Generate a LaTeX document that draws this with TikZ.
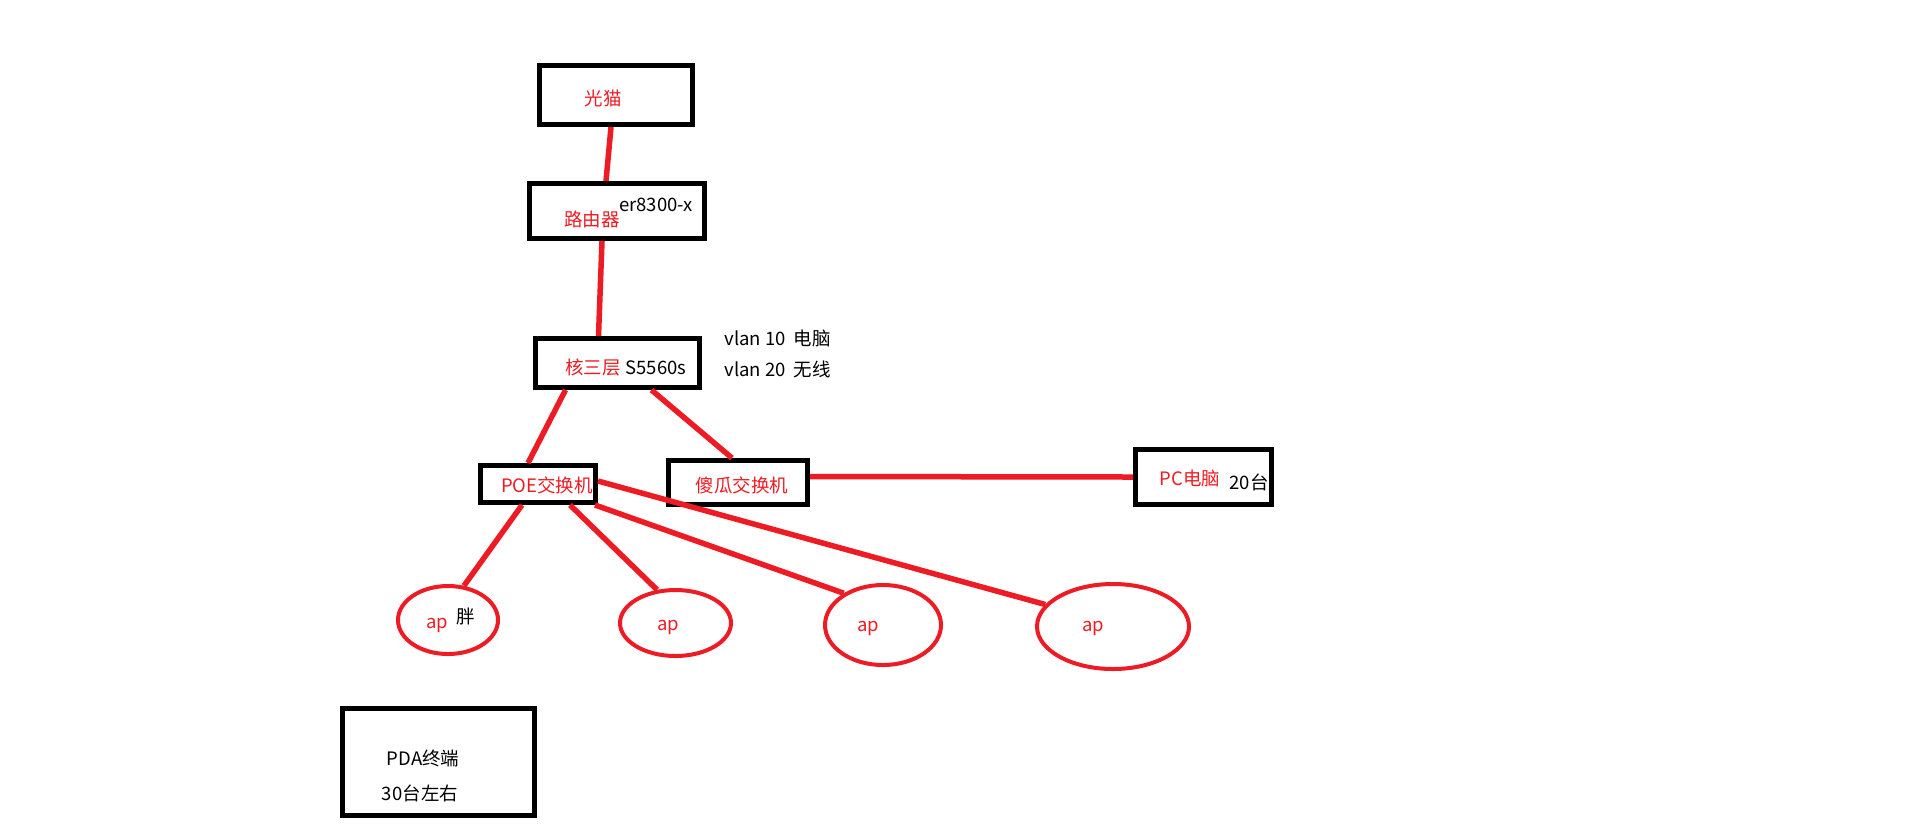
\documentclass[tikz,border=0pt]{standalone}
\usepackage{fontspec}
\setmainfont{Noto Sans CJK SC}
\usetikzlibrary{shapes.geometric}
\definecolor{paintred}{HTML}{ED1C24}

\begin{document}
\begin{tikzpicture}[x=0.5pt, y=-0.5pt,
    font=\fontsize{9.25}{11}\selectfont,
    box/.style={draw=black, line width=2.5pt, inner sep=0pt},
    apnode/.style={ellipse, draw=paintred, line width=2pt, inner sep=0pt},
    link/.style={paintred, line width=2.75pt},
    redlbl/.style={text=paintred, inner sep=0pt},
    blklbl/.style={text=black, inner sep=0pt}]

    \useasboundingbox (0,0) rectangle (1914,832);

    % Devices, boxes drawn empty and labelled separately
    \node[box, minimum width=76.5pt, minimum height=29.5pt] (modem) at (616,95) {};
    \node[box, minimum width=87.5pt, minimum height=27.5pt] (router) at (617,211) {};
    \node[box, minimum width=82pt, minimum height=24.5pt] (core) at (617.5,363) {};
    \node[box, minimum width=57.5pt, minimum height=18.5pt] (poe) at (538,484) {};
    \node[box, minimum width=69.5pt, minimum height=22pt] (dumb) at (738,482.5) {};
    \node[box, minimum width=68pt, minimum height=27.5pt] (pc) at (1203.5,477) {};
    \node[box, minimum width=96pt, minimum height=53.5pt] (pda) at (438.5,762) {};

    % Access points
    \foreach \name/\x/\y/\w/\h in {ap1/448/620/50/34, ap2/675.5/623/55.5/33,
                                   ap3/883/625/58/40, ap4/1113/626.5/76/42.5} {
        \node[apnode, minimum width=\w pt, minimum height=\h pt] (\name) at (\x,\y) {};
    }

    % Labels
    \node[redlbl] (modemlbl) at (603,98) {光猫};
    \node[redlbl] (routerlbl) at (592,219) {路由器};
    \node[blklbl] (routermodel) at (656,205) {er8300-x};
    \node[redlbl] (corelbl) at (593,368) {核三层};
    \node[blklbl] (coremodel) at (656,368) {S5560s};
    \node[blklbl, anchor=west] (vlanpc) at (724,338) {vlan 10\ \ 电脑};
    \node[blklbl, anchor=west] (vlanwifi) at (724,369) {vlan 20\ \ 无线};
    \node[redlbl] (poelbl) at (547,485) {POE交换机};
    \node[redlbl] (dumblbl) at (742,485) {傻瓜交换机};
    \node[redlbl] (pclbl) at (1190,478) {PC电脑};
    \node[blklbl] (pccount) at (1249,482) {20台};
    \node[redlbl] (aplbl1) at (437,625) {ap};
    \node[blklbl] (fatlbl) at (466,616) {胖};
    \node[redlbl] (aplbl2) at (668,627) {ap};
    \node[redlbl] (aplbl3) at (868,628) {ap};
    \node[redlbl] (aplbl4) at (1093,628) {ap};
    \node[blklbl] (pdalbl) at (423,758) {PDA终端};
    \node[blklbl] (pdacount) at (420,793) {30台左右};

    % Links
    \draw[link] ([xshift=-2.5pt]modem.south) -- ([xshift=-5.5pt]router.north);
    \draw[link] ([xshift=-7.5pt]router.south) -- ([xshift=-9.5pt]core.north);
    \draw[link] ([xshift=-26pt]core.south) -- ([xshift=-5pt]poe.north);
    \draw[link] ([xshift=17pt]core.south) -- ([xshift=-3pt]dumb.north);
    \draw[link] ([yshift=3pt]dumb.east) -- (pc.west);

    % POE switch to the access points
    \draw[link] ([xshift=-8pt]poe.south) -- (ap1.65);
    \draw[link] ([xshift=16pt]poe.south) -- (ap2.119);
    \draw[link] ([xshift=-1.5pt]poe.south east) -- (ap3.141);
    \draw[link] ([yshift=1.5pt]poe.east) -- (ap4.162);
\end{tikzpicture}
\end{document}
